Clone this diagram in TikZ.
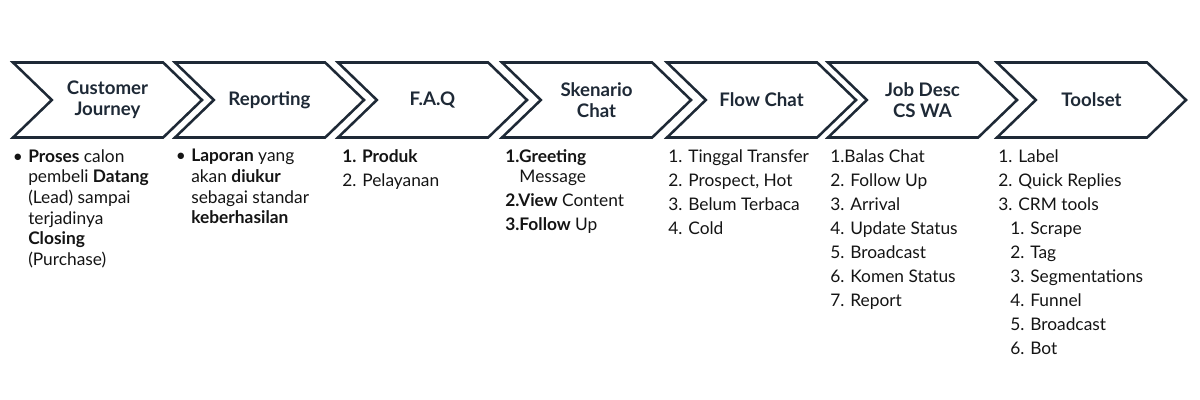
\documentclass[tikz,border=0pt]{standalone}
\usepackage{fontspec}
\setmainfont{Lato}
\usetikzlibrary{shapes.symbols}
\definecolor{navy}{RGB}{30,41,54}
\definecolor{ink}{RGB}{20,20,20}

\begin{document}
\begin{tikzpicture}[
        x=0.75pt, y=-0.75pt,
        chevron/.style={signal, signal from=west, signal to=east,
                        signal pointer angle=88, draw=navy, line width=1.9pt,
                        minimum width=141.75pt, minimum height=56.25pt,
                        inner sep=0pt, align=center, text=navy,
                        font=\fontsize{14}{15.5}\selectfont\bfseries},
        items/.style={anchor=north west, inner sep=0pt, align=left, text=ink,
                      font=\fontsize{13}{15.5}\selectfont},
        steps/.style={items, font=\fontsize{13}{18}\selectfont}
    ]
        \useasboundingbox (0,0) rectangle (1200,400);

        \node[chevron] (journey)  at (107.5,100)  {Customer\\Journey};
        \node[chevron] (report)   at (269.5,100)  {Reporting};
        \node[chevron] (faq)      at (432.5,100)  {F.A.Q};
        \node[chevron] (skenario) at (596.5,100)  {Skenario\\Chat};
        \node[chevron] (flow)     at (761.5,100)  {Flow Chat};
        \node[chevron] (jobdesc)  at (922.5,100)  {Job Desc\\CS WA};
        \node[chevron] (toolset)  at (1091.5,100) {Toolset};

        \node[items] (journeylist) at (28,149)
            {\llap{\textbullet\hspace{4pt}}\textbf{Proses} calon\\pembeli \textbf{Datang}\\(Lead) sampai\\terjadinya\\\textbf{Closing}\\(Purchase)};
        \node[items] (reportlist) at (191,149)
            {\llap{\textbullet\hspace{4pt}}\textbf{Laporan} yang\\akan \textbf{diukur}\\sebagai standar\\\textbf{keberhasilan}};
        \node[steps] (faqlist) at (342,149)
            {\textbf{1. Produk}\\2. Pelayanan};
        \node[items] (skenariolist) at (505,149)
            {\textbf{1.Greeting}\\\phantom{1.}Message\\[2.5pt]\textbf{2.View} Content\\[2.5pt]\textbf{3.Follow} Up};
        \node[steps] (flowlist) at (668,149)
            {1. Tinggal Transfer\\2. Prospect, Hot\\3. Belum Terbaca\\4. Cold};
        \node[steps] (jobdesclist) at (830,149)
            {1.Balas Chat\\2. Follow Up\\3. Arrival\\4. Update Status\\5. Broadcast\\6. Komen Status\\7. Report};
        \node[steps] (toolsetlist) at (998,149)
            {1. Label\\2. Quick Replies\\3. CRM tools\\
             \hspace*{9pt}1. Scrape\\\hspace*{9pt}2. Tag\\\hspace*{9pt}3. Segmentations\\
             \hspace*{9pt}4. Funnel\\\hspace*{9pt}5. Broadcast\\\hspace*{9pt}6. Bot};
    \end{tikzpicture}
\end{document}
